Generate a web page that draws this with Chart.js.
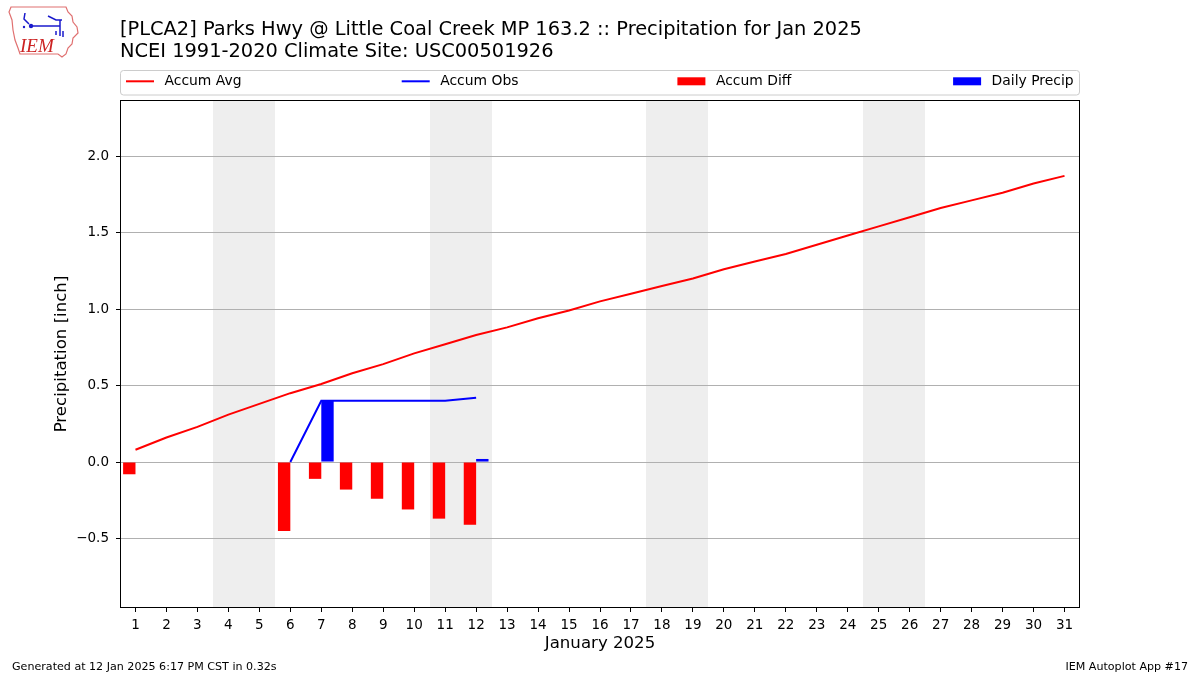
<!DOCTYPE html>
<html>
<head>
<meta charset="utf-8">
<script src="https://cdn.jsdelivr.net/npm/chart.js@4"></script>
<style>
html,body{margin:0;padding:0;background:#fff;}
#wrap{width:1200px;height:675px;position:relative;}
canvas{display:block;}
</style>
</head>
<body>
<div id="wrap"><canvas id="c" width="1200" height="675"></canvas></div>
<script>
// ---- data ----
const days = [1,2,3,4,5,6,7,8,9,10,11,12,13,14,15,16,17,18,19,20,21,22,23,24,25,26,27,28,29,30,31];
const accumAvg = [0.08,0.16,0.23,0.31,0.38,0.45,0.51,0.58,0.64,0.71,0.77,0.83,0.88,0.94,0.99,1.05,1.10,1.15,1.20,1.26,1.31,1.36,1.42,1.48,1.54,1.60,1.66,1.71,1.76,1.82,1.87];
const accumObs = [0,null,null,null,null,0,0.40,0.40,0.40,0.40,0.40,0.42,null,null,null,null,null,null,null,null,null,null,null,null,null,null,null,null,null,null,null];
const accumDiff = [-0.08,null,null,null,null,-0.45,-0.11,-0.18,-0.24,-0.31,-0.37,-0.41,null,null,null,null,null,null,null,null,null,null,null,null,null,null,null,null,null,null,null];
const dailyPrecip = [null,null,null,null,null,null,0.40,null,null,null,null,0.02,null,null,null,null,null,null,null,null,null,null,null,null,null,null,null,null,null,null,null];
const weekendDays = [4,5,11,12,18,19,25,26];
const yTicks = [-0.5,0.0,0.5,1.0,1.5,2.0];
const yMin = -0.954, yMax = 2.366;
const titleLines = ["[PLCA2] Parks Hwy @ Little Coal Creek MP 163.2 :: Precipitation for Jan 2025","NCEI 1991-2020 Climate Site: USC00501926"];
const xTitle = "January 2025";
const yTitle = "Precipitation [inch]";
const footerLeft = "Generated at 12 Jan 2025 6:17 PM CST in 0.32s";
const footerRight = "IEM Autoplot App #17";
const legendItems = [
  {label:"Accum Avg", color:"#ff0000", kind:"line"},
  {label:"Accum Obs", color:"#0000ff", kind:"line"},
  {label:"Accum Diff", color:"#ff0000", kind:"box"},
  {label:"Daily Precip", color:"#0000ff", kind:"box"}
];

const FONT = "'DejaVu Sans', sans-serif";

const decor = {
  id:'decor',
  beforeDraw(chart){
    const ctx = chart.ctx, ca = chart.chartArea, xs = chart.scales.x;
    ctx.save();
    ctx.fillStyle = '#fff';
    ctx.fillRect(0,0,chart.width,chart.height);
    const half = (xs.getPixelForValue(1) - xs.getPixelForValue(0))/2;
    ctx.fillStyle = '#eeeeee';
    weekendDays.forEach(d=>{
      const cx = xs.getPixelForValue(days.indexOf(d));
      const x0 = Math.round(cx-half), x1 = Math.round(cx+half);
      ctx.fillRect(x0, ca.top, x1-x0, ca.bottom-ca.top);
    });
    ctx.restore();
  },
  afterDraw(chart){
    const ctx = chart.ctx, ca = chart.chartArea;
    ctx.save();
    // frame
    ctx.strokeStyle = '#000'; ctx.lineWidth = 1;
    ctx.strokeRect(Math.round(ca.left)+0.5, Math.round(ca.top)+0.5, Math.round(ca.right-ca.left)-1, Math.round(ca.bottom-ca.top)-1);
    // titles
    ctx.fillStyle = '#000';
    ctx.textBaseline = 'alphabetic';
    ctx.textAlign = 'left';
    ctx.font = '19.4px ' + FONT;
    ctx.fillText(titleLines[0], 120, 35);
    ctx.fillText(titleLines[1], 120, 57);
    // axis titles
    ctx.font = '16.6px ' + FONT;
    ctx.textAlign = 'center';
    ctx.textBaseline = 'middle';
    ctx.fillText(xTitle, (ca.left+ca.right)/2, 644);
    ctx.save();
    ctx.translate(62, (ca.top+ca.bottom)/2);
    ctx.rotate(-Math.PI/2);
    ctx.fillText(yTitle, 0, 0);
    ctx.restore();
    // footer
    ctx.font = '11.1px ' + FONT;
    ctx.textBaseline = 'alphabetic';
    ctx.textAlign = 'left';
    ctx.fillText(footerLeft, 12, 670);
    ctx.textAlign = 'right';
    ctx.fillText(footerRight, 1188, 670);
    // legend
    const lx = ca.left + 0.5, ly = 70.5, lw = ca.right - ca.left - 1, lh = 24.5;
    ctx.beginPath();
    if (ctx.roundRect) ctx.roundRect(lx, ly, lw, lh, 3); else ctx.rect(lx, ly, lw, lh);
    ctx.fillStyle = 'rgba(255,255,255,0.8)'; ctx.fill();
    ctx.strokeStyle = '#cccccc'; ctx.lineWidth = 1; ctx.stroke();
    ctx.font = '13.9px ' + FONT;
    ctx.textAlign = 'left'; ctx.textBaseline = 'middle';
    legendItems.forEach((it,i)=>{
      const sx = 126 + i*275.7, cy = 81.3;
      if (it.kind === 'line') {
        ctx.strokeStyle = it.color; ctx.lineWidth = 2;
        ctx.beginPath(); ctx.moveTo(sx, cy); ctx.lineTo(sx+28, cy); ctx.stroke();
      } else {
        ctx.fillStyle = it.color;
        ctx.fillRect(sx, cy-4, 28, 8);
      }
      ctx.fillStyle = '#000';
      ctx.fillText(it.label, sx+38.5, cy);
    });
    // logo
    drawLogo(ctx);
    ctx.restore();
  }
};

function drawLogo(ctx){
  ctx.save();
  ctx.strokeStyle = '#e07070'; ctx.lineWidth = 1.2;
  ctx.beginPath();
  ctx.moveTo(11,7); ctx.lineTo(66,7); ctx.lineTo(68,12); ctx.lineTo(72,16); ctx.lineTo(73,22);
  ctx.lineTo(77,27); ctx.lineTo(78,33); ctx.lineTo(73,38); ctx.lineTo(72,44); ctx.lineTo(68,48);
  ctx.lineTo(66,54); ctx.lineTo(62,57); ctx.lineTo(58,54); ctx.lineTo(20,54); ctx.lineTo(18,48);
  ctx.lineTo(15,40); ctx.lineTo(13,30); ctx.lineTo(12,20); ctx.lineTo(9,12); ctx.closePath();
  ctx.stroke();
  ctx.fillStyle = '#cc2222';
  ctx.font = 'italic 19px "Liberation Serif", serif';
  ctx.textAlign = 'left'; ctx.textBaseline = 'alphabetic';
  ctx.fillText('IEM', 20, 52);
  ctx.strokeStyle = '#1a1acc'; ctx.fillStyle = '#1a1acc'; ctx.lineWidth = 1.5;
  ctx.beginPath(); ctx.moveTo(31,26); ctx.lineTo(60,26); ctx.stroke();
  ctx.beginPath(); ctx.arc(31,26,2.2,0,Math.PI*2); ctx.fill();
  ctx.beginPath(); ctx.moveTo(25,13); ctx.lineTo(24,19); ctx.lineTo(29,24); ctx.stroke();
  ctx.beginPath(); ctx.moveTo(48,16); ctx.lineTo(56,20); ctx.lineTo(62,20); ctx.stroke();
  ctx.beginPath(); ctx.moveTo(60,20); ctx.lineTo(60,36); ctx.stroke();
  ctx.beginPath(); ctx.moveTo(56,31); ctx.lineTo(56,35); ctx.moveTo(63,31); ctx.lineTo(63,37); ctx.stroke();
  ctx.beginPath(); ctx.arc(24,27,1.2,0,Math.PI*2); ctx.fill();
  ctx.restore();
}

const fmt = v => { const s = Number(v).toFixed(1); return s.replace('-', '\u2212'); };

new Chart(document.getElementById('c'), {
  type: 'bar',
  data: {
    labels: days.map(String),
    datasets: [
      {type:'line', label:'Accum Avg', data: accumAvg, borderColor:'#ff0000', borderWidth:2, pointRadius:0, tension:0, fill:false},
      {type:'line', label:'Accum Obs', data: accumObs, borderColor:'#0000ff', borderWidth:2, pointRadius:0, tension:0, fill:false, spanGaps:false},
      {type:'bar', label:'Accum Diff', data: accumDiff, backgroundColor:'#ff0000', borderWidth:0, categoryPercentage:0.8, barPercentage:1.0},
      {type:'bar', label:'Daily Precip', data: dailyPrecip, backgroundColor:'#0000ff', borderWidth:0, categoryPercentage:0.8, barPercentage:1.0}
    ]
  },
  options: {
    responsive:false,
    animation:false,
    devicePixelRatio:1,
    layout:{padding:{left:0, top:100, right:120, bottom:0}},
    plugins:{legend:{display:false}, tooltip:{enabled:false}, title:{display:false}},
    scales:{
      x:{
        type:'category',
        offset:true,
        grid:{display:true, drawOnChartArea:false, drawTicks:true, tickLength:4, tickColor:'#000', offset:false},
        border:{display:false},
        ticks:{color:'#000', font:{family:FONT, size:13.5}, padding:5, maxRotation:0, autoSkip:false},
        afterFit(s){ s.height = 67; }
      },
      y:{
        type:'linear',
        min:yMin, max:yMax,
        grid:{color:'#b0b0b0', lineWidth:1, drawTicks:true, tickLength:4, tickColor:'#000'},
        border:{display:false},
        ticks:{color:'#000', font:{family:FONT, size:13.5}, padding:7, callback:(v)=>fmt(v)},
        afterBuildTicks(s){ s.ticks = yTicks.map(v=>({value:v})); },
        afterFit(s){ s.width = 120; }
      }
    }
  },
  plugins:[decor]
});
</script>
</body>
</html>
